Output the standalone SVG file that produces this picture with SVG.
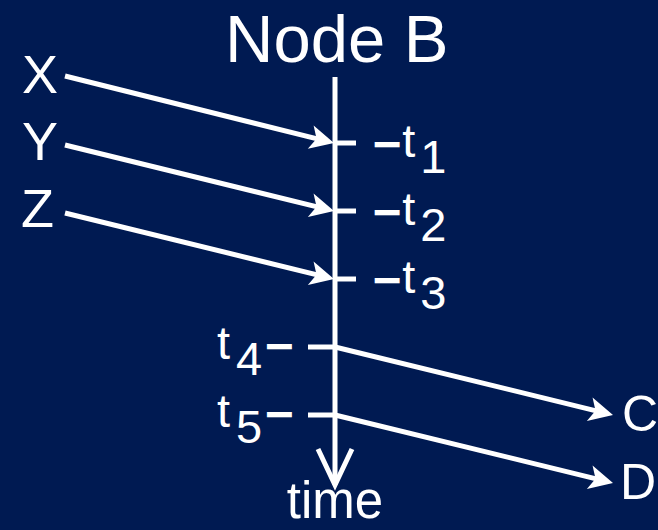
<svg xmlns="http://www.w3.org/2000/svg" width="658" height="530" viewBox="0 0 658 530">
<defs>
<style>
text{font-family:"Liberation Sans",Arial,sans-serif;fill:#ffffff}
.d{stroke:#ffffff;stroke-width:2.6;font-size:40px}
.ln{stroke:#ffffff;stroke-width:5;fill:none}
</style>
<marker id="ah" markerUnits="userSpaceOnUse" markerWidth="28" markerHeight="26" viewBox="-16 -13 28 26" refX="0" refY="0" orient="auto">
<path d="M10,0 L-14,-12 L-8,0 L-14,12 Z" fill="#ffffff"/>
</marker>
</defs>
<rect width="658" height="530" fill="#001A52"/>
<g id="nodeB">
<text x="225" y="62" font-size="67">Node B</text>
<line class="ln" x1="335" y1="77" x2="335" y2="485"/>
<polyline class="ln" points="318,449 335,485 352,449" stroke-linejoin="miter"/>
<text x="335" y="518" font-size="51" text-anchor="middle">time</text>
</g>
<g id="ticks">
<line class="ln" x1="335" y1="143" x2="356" y2="143"/>
<line class="ln" x1="335" y1="211" x2="356" y2="211"/>
<line class="ln" x1="335" y1="279" x2="356" y2="279"/>
<line class="ln" x1="308" y1="347" x2="335" y2="347"/>
<line class="ln" x1="308" y1="415" x2="335" y2="415"/>
</g>
<g id="labels" font-size="47">
<text x="376" y="157" font-size="47"><tspan class="d" dy="-2">–</tspan><tspan dx="4" dy="2">t</tspan><tspan dx="5" dy="16">1</tspan></text>
<text x="376" y="225" font-size="47"><tspan class="d" dy="-2">–</tspan><tspan dx="4" dy="2">t</tspan><tspan dx="5" dy="16">2</tspan></text>
<text x="376" y="293" font-size="47"><tspan class="d" dy="-2">–</tspan><tspan dx="4" dy="2">t</tspan><tspan dx="5" dy="16">3</tspan></text>
<text x="217" y="359" font-size="47">t<tspan dx="6" dy="16">4</tspan><tspan class="d" dx="6" dy="-18">–</tspan></text>
<text x="217" y="427" font-size="47">t<tspan dx="6" dy="16">5</tspan><tspan class="d" dx="6" dy="-18">–</tspan></text>
</g>
<g id="nodeX"><text x="22" y="93" font-size="54">X</text></g>
<g id="nodeY"><text x="22" y="160" font-size="54">Y</text></g>
<g id="nodeZ"><text x="21" y="227" font-size="54">Z</text></g>
<g id="nodeC"><text x="622" y="431" font-size="50">C</text></g>
<g id="nodeD"><text x="620" y="499" font-size="50">D</text></g>
<g id="connectors">
<line class="ln" x1="65" y1="76" x2="324.3" y2="140.6" marker-end="url(#ah)"/>
<line class="ln" x1="65" y1="145" x2="324.3" y2="208.6" marker-end="url(#ah)"/>
<line class="ln" x1="65" y1="213" x2="324.3" y2="276.6" marker-end="url(#ah)"/>
<line class="ln" x1="335" y1="347" x2="603.3" y2="412.6" marker-end="url(#ah)"/>
<line class="ln" x1="335" y1="415" x2="603.3" y2="480.6" marker-end="url(#ah)"/>
</g>
</svg>
